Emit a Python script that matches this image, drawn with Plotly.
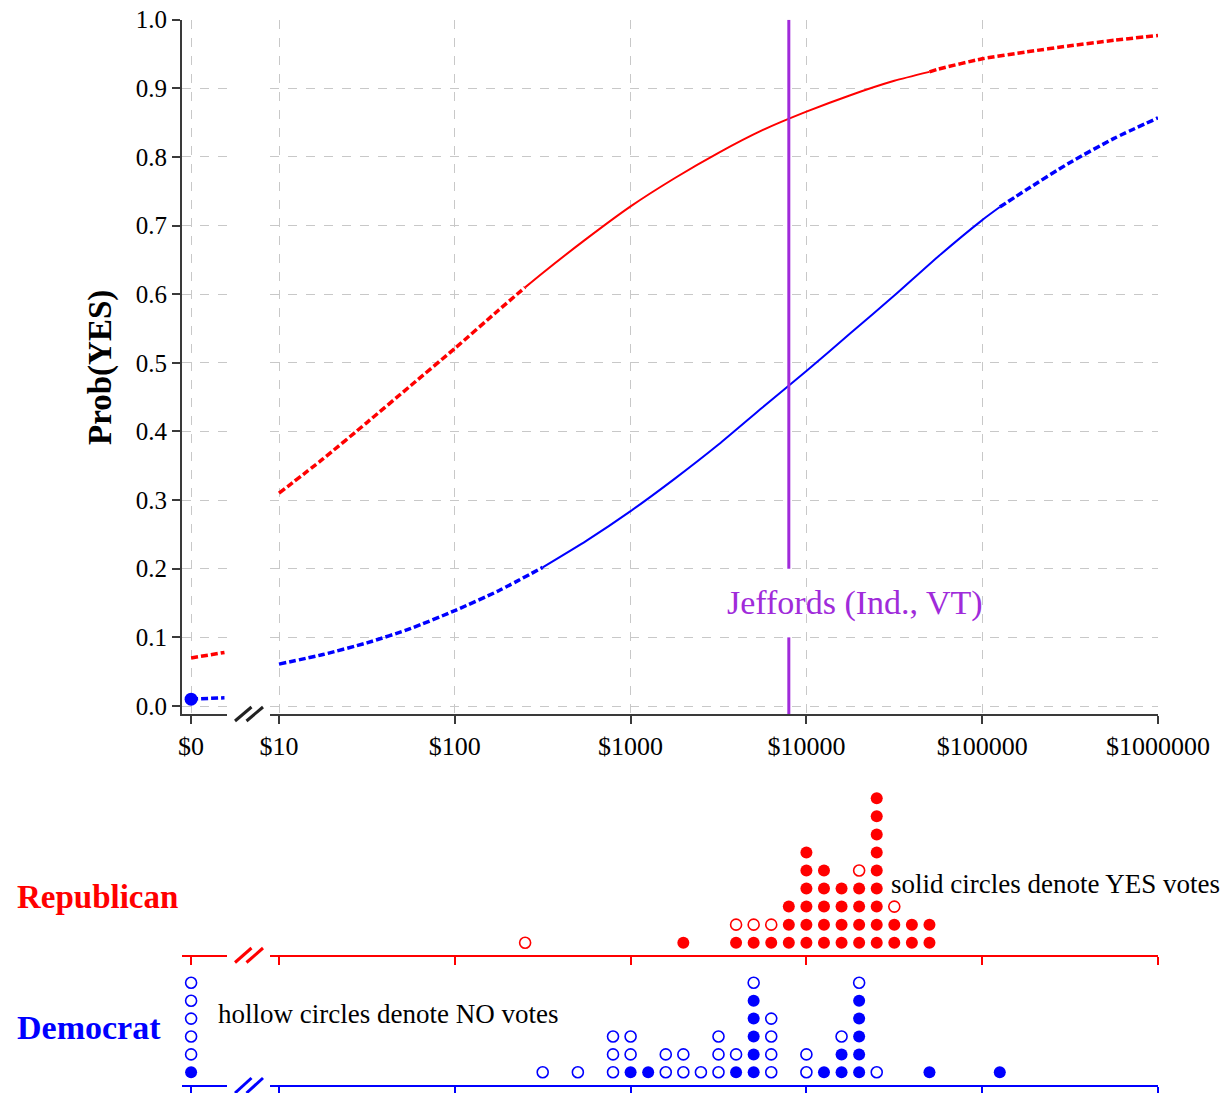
import plotly.graph_objects as go

W, H = 1227, 1093

# ---------------- data ----------------
# fitted probability curves, x in log10(dollars)
rep_curve_log10 = [1, 1.25, 1.5, 1.75, 2, 2.25, 2.4, 2.5, 2.75, 3, 3.25, 3.5, 3.75, 4,
                   4.25, 4.5, 4.7, 4.75, 5, 5.25, 5.5, 5.75, 6]
rep_curve_prob = [0.310, 0.360, 0.413, 0.467, 0.521, 0.577, 0.610, 0.631, 0.681, 0.728,
                  0.769, 0.806, 0.839, 0.866, 0.890, 0.911, 0.924, 0.928, 0.943, 0.953,
                  0.962, 0.970, 0.977]
dem_curve_log10 = [1, 1.25, 1.5, 1.75, 2, 2.25, 2.5, 2.75, 3, 3.25, 3.5, 3.75, 4,
                   4.25, 4.5, 4.75, 5, 5.1, 5.25, 5.5, 5.75, 6]
dem_curve_prob = [0.061, 0.075, 0.092, 0.113, 0.139, 0.168, 0.202, 0.241, 0.284, 0.331,
                  0.381, 0.435, 0.488, 0.543, 0.598, 0.655, 0.708, 0.727, 0.752, 0.792,
                  0.827, 0.857]
rep_observed_range = [2.4, 4.7]   # solid part of curve (observed contributions)
dem_observed_range = [2.5, 5.1]

# the "$0" segment left of the axis break (dollars)
zero_seg_amount = [0, 1]
rep_zero_prob = [0.070, 0.078]
dem_zero_prob = [0.010, 0.012]

jeffords_log10 = 3.9
jeffords_label = "Jeffords (Ind., VT)"

# dot plots: bins in log10(dollars), counts of YES (solid) and NO (hollow)
rep_bins = [2.4, 3.3, 3.6, 3.7, 3.8, 3.9, 4.0, 4.1, 4.2, 4.3, 4.4, 4.5, 4.6, 4.7]
rep_yes = [0, 1, 1, 1, 1, 3, 6, 5, 4, 4, 9, 2, 2, 2]
rep_no = [1, 0, 1, 1, 1, 0, 0, 0, 0, 1, 0, 1, 0, 0]
rep_zero_yes, rep_zero_no = 0, 0

dem_bins = [2.5, 2.7, 2.9, 3.0, 3.1, 3.2, 3.3, 3.4, 3.5, 3.6, 3.7, 3.8, 4.0, 4.1, 4.2, 4.3, 4.4, 4.7, 5.1]
dem_yes = [0, 0, 0, 1, 1, 0, 0, 0, 0, 1, 5, 0, 0, 1, 2, 5, 0, 1, 1]
dem_no = [1, 1, 3, 2, 0, 2, 2, 1, 3, 1, 1, 4, 2, 0, 1, 1, 1, 0, 0]
dem_zero_yes, dem_zero_no = 1, 5

x_tick_log10 = [1, 2, 3, 4, 5, 6]
x_tick_text = ["$10", "$100", "$1000", "$10000", "$100000", "$1000000"]
zero_tick_text = "$0"
y_ticks = [0.0, 0.1, 0.2, 0.3, 0.4, 0.5, 0.6, 0.7, 0.8, 0.9, 1.0]

RED = "#FF0000"
BLUE = "#0000FF"
PURPLE = "#A02BDA"
AXC = "#3A3A3A"
GRID = "#C8C8C8"
FONT = "Liberation Serif"
DASH = "7px,3px"


def px(x):
    return x / W


def py(y):
    return 1 - y / H


fig = go.Figure()

# ---------------- curves ----------------
def add_curve(xs, ps, rng, color, xa, ya):
    lo, hi = rng
    segs = [
        ([x for x in xs if x <= lo], DASH, 3.5),
        ([x for x in xs if lo <= x <= hi], "solid", 2),
        ([x for x in xs if x >= hi], DASH, 3.5),
    ]
    for sx, dash, w in segs:
        sp = [ps[xs.index(v)] for v in sx]
        fig.add_trace(go.Scatter(
            x=[10 ** v for v in sx], y=sp, mode="lines",
            line=dict(color=color, width=w, dash=dash, shape="spline", smoothing=0.6),
            xaxis=xa, yaxis=ya, showlegend=False, hoverinfo="skip"))


add_curve(rep_curve_log10, rep_curve_prob, rep_observed_range, RED, "x2", "y2")
add_curve(dem_curve_log10, dem_curve_prob, dem_observed_range, BLUE, "x2", "y2")

# $0 segment
fig.add_trace(go.Scatter(x=zero_seg_amount, y=rep_zero_prob, mode="lines",
                         line=dict(color=RED, width=3.5, dash=DASH),
                         xaxis="x", yaxis="y", showlegend=False, hoverinfo="skip"))
fig.add_trace(go.Scatter(x=zero_seg_amount, y=dem_zero_prob, mode="lines",
                         line=dict(color=BLUE, width=3.5, dash=DASH),
                         xaxis="x", yaxis="y", showlegend=False, hoverinfo="skip"))
fig.add_trace(go.Scatter(x=[zero_seg_amount[0]], y=[dem_zero_prob[0]], mode="markers",
                         marker=dict(color=BLUE, size=13),
                         xaxis="x", yaxis="y", showlegend=False, hoverinfo="skip",
                         cliponaxis=False))

# Jeffords line (gap around its label)
YMIN = -8 / 686
for y0, y1 in [(YMIN, 0.1), (0.2, 1.0)]:
    fig.add_trace(go.Scatter(x=[10 ** jeffords_log10] * 2, y=[y0, y1], mode="lines",
                             line=dict(color=PURPLE, width=3),
                             xaxis="x2", yaxis="y2", showlegend=False, hoverinfo="skip"))


# ---------------- dot plots ----------------
def dots(bins, yes, no):
    sx, sy, hx, hy = [], [], [], []
    for b, ny, nn in zip(bins, yes, no):
        for i in range(ny):
            sx.append(b); sy.append(i)
        for j in range(nn):
            hx.append(b); hy.append(ny + j)
    return sx, sy, hx, hy


def add_dot_traces(sx, sy, hx, hy, color, xa, ya):
    fig.add_trace(go.Scatter(x=sx, y=sy, mode="markers",
                             marker=dict(color=color, size=12, line=dict(width=0)),
                             xaxis=xa, yaxis=ya, showlegend=False,
                             cliponaxis=False, hoverinfo="skip"))
    fig.add_trace(go.Scatter(x=hx, y=hy, mode="markers",
                             marker=dict(color=color, size=11, symbol="circle-open",
                                         line=dict(width=1.6, color=color)),
                             xaxis=xa, yaxis=ya, showlegend=False,
                             cliponaxis=False, hoverinfo="skip"))


def add_dots(bins, yes, no, zy, zn, color, xa_left, xa_main, ya_left, ya_main):
    sx, sy, hx, hy = dots(bins, yes, no)
    add_dot_traces([10 ** v for v in sx], sy, [10 ** v for v in hx], hy, color,
                   xa_main, ya_main)
    zsx, zsy, zhx, zhy = dots([0], [zy], [zn])
    add_dot_traces(zsx, zsy, zhx, zhy, color, xa_left, ya_left)


add_dots(rep_bins, rep_yes, rep_no, rep_zero_yes, rep_zero_no, RED, "x3", "x4", "y3", "y4")
add_dots(dem_bins, dem_yes, dem_no, dem_zero_yes, dem_zero_no, BLUE, "x5", "x6", "y5", "y6")

# ---------------- axes ----------------
LEFT_DOM = [px(182), px(226.5)]
MAIN_DOM = [px(270), px(1158)]
LEFT_RANGE = [-0.2727, 1.0606]
MAIN_RANGE = [1 - 9 / 175.8, 6]
TOP_DOM = [py(714), py(19.7)]
tickfont = dict(family=FONT, size=26, color="black")

common_grid = dict(showgrid=True, gridcolor=GRID, gridwidth=1, griddash="dash",
                   zeroline=False, automargin=False)

layout_axes = dict(
    xaxis=dict(domain=LEFT_DOM, range=LEFT_RANGE, anchor="y",
               tickvals=[0], ticktext=[zero_tick_text], tickfont=tickfont,
               showline=True, linecolor=AXC, linewidth=2,
               ticks="outside", ticklen=8, tickwidth=2, tickcolor=AXC, **common_grid),
    yaxis=dict(domain=TOP_DOM, range=[YMIN, 1.0], anchor="x",
               tickvals=y_ticks, ticktext=[f"{v:.1f}" for v in y_ticks],
               tickfont=dict(family=FONT, size=25, color="black"),
               showline=True, linecolor=AXC, linewidth=2,
               ticks="outside", ticklen=8, tickwidth=2, tickcolor=AXC, **common_grid),
    xaxis2=dict(domain=MAIN_DOM, type="log", range=MAIN_RANGE, anchor="y2",
                tickvals=[10 ** v for v in x_tick_log10], ticktext=x_tick_text, tickfont=tickfont,
                showline=True, linecolor=AXC, linewidth=2,
                ticks="outside", ticklen=8, tickwidth=2, tickcolor=AXC, **common_grid),
    yaxis2=dict(domain=TOP_DOM, range=[YMIN, 1.0], anchor="x2",
                tickvals=y_ticks, showticklabels=False, showline=False, ticks="",
                **common_grid),
)

REP_DOM = [py(955), py(785)]
REP_RANGE = [-12.3 / 18.05, -12.3 / 18.05 + 170 / 18.05]
DEM_DOM = [py(1085.3), py(975)]
DEM_RANGE = [-13 / 17.9, -13 / 17.9 + 110.3 / 17.9]


def dot_axes(color, xl, xm, yl, ym, ydom, yrng):
    base = dict(showline=True, linecolor=color, linewidth=2, ticks="outside",
                ticklen=8, tickwidth=2, tickcolor=color, showticklabels=False,
                showgrid=False, zeroline=False, automargin=False)
    yhide = dict(showline=False, showgrid=False, zeroline=False, showticklabels=False,
                 ticks="", automargin=False)
    return {
        "xaxis" + xl: dict(domain=LEFT_DOM, range=LEFT_RANGE, anchor="y" + yl,
                           tickvals=[0], **base),
        "xaxis" + xm: dict(domain=MAIN_DOM, type="log", range=MAIN_RANGE, anchor="y" + ym,
                           tickvals=[10 ** v for v in x_tick_log10], **base),
        "yaxis" + yl: dict(domain=ydom, range=yrng, anchor="x" + xl, **yhide),
        "yaxis" + ym: dict(domain=ydom, range=yrng, anchor="x" + xm, **yhide),
    }


layout_axes.update(dot_axes(RED, "3", "4", "3", "4", REP_DOM, REP_RANGE))
layout_axes.update(dot_axes(BLUE, "5", "6", "5", "6", DEM_DOM, DEM_RANGE))

# ---------------- axis-break marks ----------------
shapes = []


def brk(ybot, ytop, color):
    for dx in (0, 11.5):
        shapes.append(dict(type="line", xref="paper", yref="paper",
                           x0=px(235 + dx), y0=py(ybot), x1=px(251.5 + dx), y1=py(ytop),
                           line=dict(color=color, width=3)))


brk(721, 707, "#222222")
brk(962.5, 948, RED)
brk(1093, 1078, BLUE)

# ---------------- text ----------------
annotations = [
    dict(text="<b>Prob(YES)</b>", x=px(100), y=py(368), xref="paper", yref="paper",
         textangle=-90, showarrow=False, xanchor="center", yanchor="middle",
         font=dict(family=FONT, size=33, color="black")),
    dict(text=jeffords_label, x=px(855), y=py(603), xref="paper", yref="paper",
         showarrow=False, xanchor="center", yanchor="middle",
         font=dict(family=FONT, size=34, color=PURPLE)),
    dict(text="<b>Republican</b>", x=px(15), y=py(897), xref="paper", yref="paper",
         showarrow=False, xanchor="left", yanchor="middle",
         font=dict(family=FONT, size=33, color=RED)),
    dict(text="<b>Democrat</b>", x=px(15), y=py(1027), xref="paper", yref="paper",
         showarrow=False, xanchor="left", yanchor="middle",
         font=dict(family=FONT, size=34, color=BLUE)),
    dict(text="solid circles denote YES votes", x=px(889), y=py(884), xref="paper",
         yref="paper", showarrow=False, xanchor="left", yanchor="middle",
         font=dict(family=FONT, size=27, color="black")),
    dict(text="hollow circles denote NO votes", x=px(216), y=py(1014), xref="paper",
         yref="paper", showarrow=False, xanchor="left", yanchor="middle",
         font=dict(family=FONT, size=27, color="black")),
]

fig.update_layout(
    width=W, height=H, autosize=False,
    margin=dict(l=0, r=0, t=0, b=0, pad=0, autoexpand=False),
    paper_bgcolor="white", plot_bgcolor="white",
    font=dict(family=FONT, color="black"),
    shapes=shapes, annotations=annotations,
    **layout_axes,
)

fig.write_html("out.html", config={"displayModeBar": False},
               post_script="document.body.style.margin='0';")
